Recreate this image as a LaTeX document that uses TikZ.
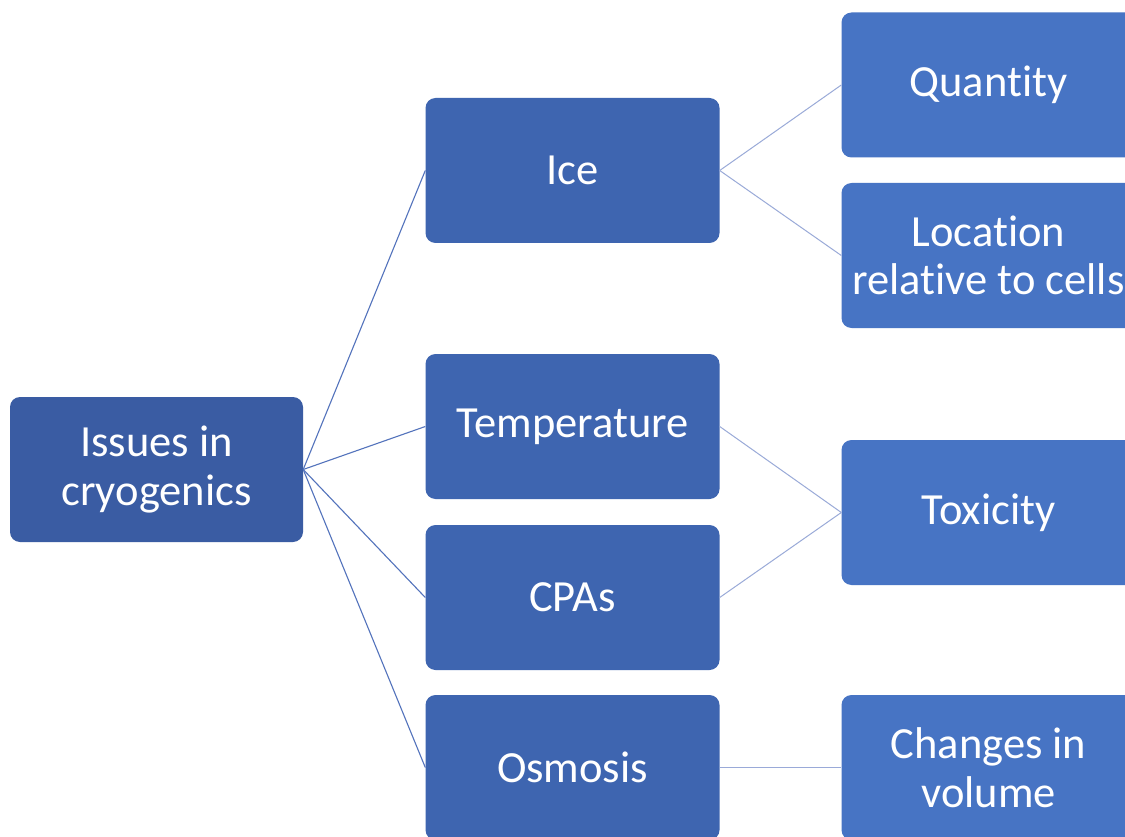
\documentclass[tikz,border=0pt]{standalone}
\usepackage{fontspec}
\setmainfont[Ligatures=CommonOff]{Carlito}
\definecolor{rootblue}{HTML}{3A5CA3}
\definecolor{midblue}{HTML}{3E65B0}
\definecolor{leafblue}{HTML}{4774C4}
\definecolor{linea}{HTML}{5373BC}
\definecolor{lineb}{HTML}{9AAAD8}
\tikzset{
  boxbase/.style={rectangle, rounded corners=10pt, text=white, align=center,
    minimum width=294pt, minimum height=145pt, inner sep=0pt,
    font=\fontsize{44.5}{48.5}\selectfont},
  rootbox/.style={boxbase, fill=rootblue, minimum width=293pt},
  midbox/.style={boxbase, fill=midblue},
  leafbox/.style={boxbase, fill=leafblue},
  conna/.style={draw=linea, line width=1.1pt},
  connb/.style={draw=lineb, line width=1pt}
}
\begin{document}
\begin{tikzpicture}[x=1pt,y=-1pt]
\useasboundingbox (0,0) rectangle (1125,837);
\clip (0,0) rectangle (1125,837);
\fill[white] (0,0) rectangle (1125,837);
\node[rootbox] (root) at (156.5,469.5) {Issues in\\cryogenics};
\node[midbox] (ice) at (572.5,170.5) {Ice};
\node[midbox] (temp) at (572.5,426.5) {Temperature};
\node[midbox] (cpas) at (572.5,597.5) {CPAs};
\node[midbox] (osm) at (572.5,767.5) {Osmosis};
\node[leafbox] (qty) at (988.5,85) {Quantity};
\node[leafbox] (loc) at (988.5,255.5) {Location\\relative to cells};
\node[leafbox] (tox) at (988.5,512.5) {Toxicity};
\node[leafbox] (chg) at (988.5,767.5) {Changes in\\volume};
\draw[conna] (root.east) -- (ice.west);
\draw[conna] (root.east) -- (temp.west);
\draw[conna] (root.east) -- (cpas.west);
\draw[conna] (root.east) -- (osm.west);
\draw[connb] (ice.east) -- (qty.west);
\draw[connb] (ice.east) -- (loc.west);
\draw[connb] (temp.east) -- (tox.west);
\draw[connb] (cpas.east) -- (tox.west);
\draw[connb] (osm.east) -- (chg.west);
\end{tikzpicture}
\end{document}
